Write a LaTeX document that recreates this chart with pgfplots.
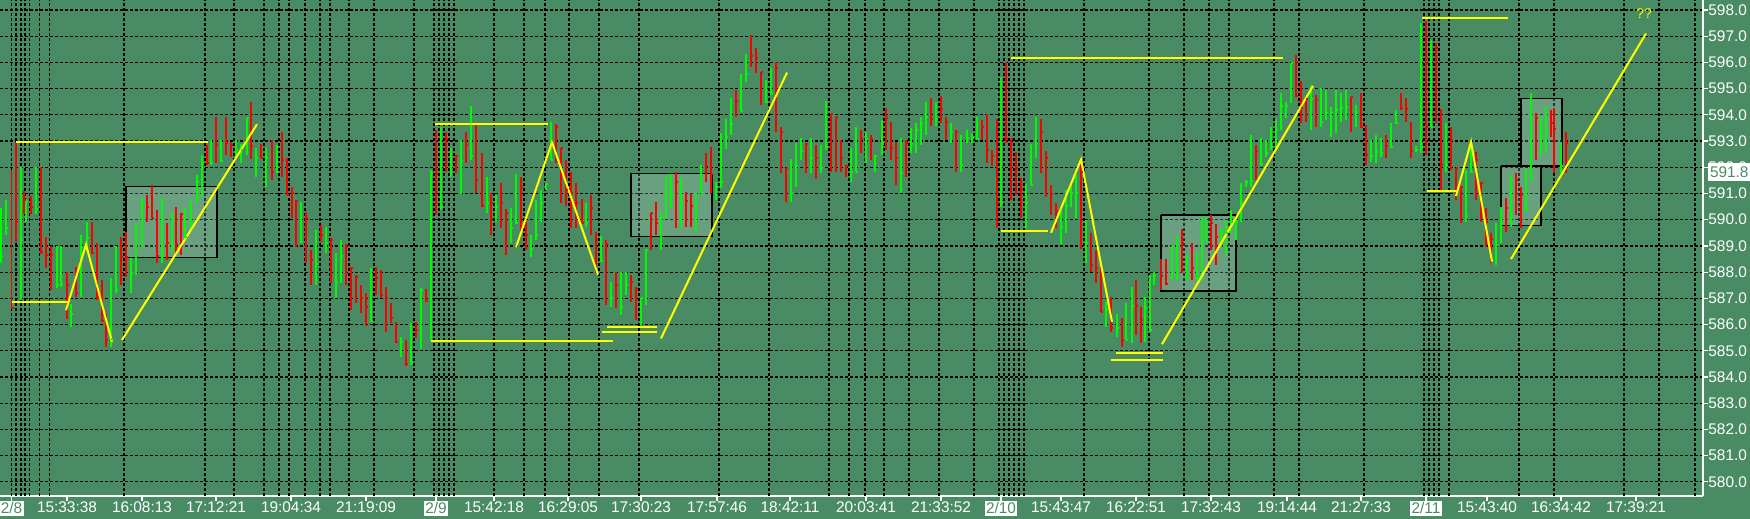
\documentclass[border=0pt]{standalone}
\usepackage{pgfplots}
\usepackage{pgfplotstable}
\pgfplotsset{compat=1.18}
\usepackage{fontspec}
\setmainfont{Liberation Sans}
\definecolor{bg}{RGB}{73,140,99}
\definecolor{bgreen}{RGB}{0,250,0}
\definecolor{bred}{RGB}{250,0,0}
\definecolor{yel}{RGB}{255,255,0}
\pgfdeclareplotmark{ctick}{\pgfpathmoveto{\pgfpointorigin}\pgfpathlineto{\pgfpoint{\pgfplotmarksize}{0pt}}\pgfusepathqstroke}
\newcommand\dbox[1]{{\setlength\fboxsep{0.7pt}\colorbox{white}{\textcolor{bg}{#1}}}}

\pgfplotstableread{
x h l c
1 590.43 588.33 588.63
6 590.75 589.42 589.67
21 592.02 586.94 589.23
26 590.75 589.9 590.7
36 592.0 590.2 590.4
57 589.0 587.4 587.5
61 589.0 587.45 587.55
71 586.8 585.9 586.4
81 589.4 587.06 588.97
87 589.9 588.8 589.3
111 587.76 585.13 585.43
116 589.0 587.19 587.32
131 588.53 587.19 587.95
136 589.86 587.89 589.4
142 590.88 588.97 590.5
162 590.81 588.34 588.63
172 590.3 588.78 589.03
185 590.43 589.29 589.35
191 590.75 589.67 589.89
197 591.7 590.62 591.45
202 592.47 590.88 592.15
211 593.04 592.09 592.15
221 593.04 592.21 592.25
236 593.04 592.4 592.66
241 592.9 592.15 592.66
247 593.87 592.47 593.87
256 592.72 591.64 592.34
266 592.72 591.26 592.34
277 592.85 591.77 591.83
301 590.69 589.1 589.16
316 589.6 587.5 588.3
326 589.73 588.72 589.12
336 588.72 587.0 587.64
341 589.22 587.57 588.63
371 588.14 586.11 586.15
401 585.51 584.77 585.35
411 586.04 584.45 584.54
421 587.38 585.05 587.3
431 591.9 585.4 591.75
441 593.55 590.37 590.5
451 592.72 591.64 592.06
461 593.04 590.98 592.25
471 594.34 592.28 592.43
487 591.62 590.24 590.65
496 590.94 589.92 590.47
511 590.43 589.12 589.67
516 591.74 589.84 589.86
531 589.42 588.56 588.87
536 590.75 589.22 589.42
541 591.13 589.92 590.65
546 591.39 591.13 591.35
551 593.74 592.28 592.28
586 590.65 589.73 589.86
601 589.38 588.4 588.44
611 587.63 586.68 587.0
621 588.0 586.36 586.66
626 588.0 587.13 587.51
641 587.0 586.0 587.0
646 588.9 586.74 588.84
661 590.27 588.84 590.05
666 591.62 590.05 591.0
671 591.74 590.43 590.98
681 591.58 589.73 590.65
696 591.03 589.54 590.34
701 592.08 591.03 591.03
716 591.45 590.75 591.26
721 593.32 591.2 591.45
726 593.83 592.68 593.14
731 594.63 593.23 593.65
741 595.56 594.16 594.16
746 596.32 595.27 595.56
766 595.33 594.44 594.47
771 595.77 594.76 594.85
791 592.3 590.69 591.03
796 592.91 591.26 592.05
801 593.1 592.28 592.63
811 593.1 591.77 592.34
821 592.85 591.77 591.96
826 594.54 592.66 592.76
851 592.72 591.45 591.83
856 593.52 591.83 591.83
866 593.36 592.15 593.07
875 592.47 591.83 592.43
882 593.8 592.47 592.89
901 593.1 591.03 591.77
911 593.48 592.53 592.89
916 593.67 592.55 593.42
921 593.93 592.85 593.67
926 594.5 593.23 593.9
936 594.5 593.57 593.83
951 593.67 592.94 593.36
961 593.23 591.83 592.06
967 593.42 592.91 593.1
972 593.3 592.91 593.1
977 593.93 593.04 593.07
1001 595.43 590.5 590.65
1026 591.36 589.67 590.65
1031 592.89 591.32 591.32
1036 593.9 592.34 592.89
1061 590.5 589.07 589.71
1066 591.13 589.48 590.52
1071 591.39 590.5 591.03
1076 591.7 590.05 591.03
1086 589.99 588.33 589.12
1106 586.87 585.9 586.55
1117 586.42 585.51 585.85
1126 586.81 585.41 585.41
1132 587.44 585.28 586.7
1145 587.06 585.35 586.62
1150 587.89 585.73 585.79
1154 588.0 587.5 587.85
1172 589.0 587.7 589.0
1177 589.38 587.7 588.1
1187 588.65 587.7 587.76
1197 588.72 587.7 587.76
1202 590.12 587.7 589.22
1206 590.12 589.16 589.22
1221 589.67 588.97 589.54
1226 589.99 588.65 589.48
1231 590.37 589.48 589.92
1236 590.12 589.22 589.92
1241 591.39 589.92 590.65
1246 591.51 591.26 591.45
1251 593.23 591.26 591.49
1261 593.1 592.03 592.13
1266 593.04 592.38 592.56
1271 593.52 592.66 592.76
1276 593.83 592.66 593.42
1281 594.82 593.42 594.34
1286 594.5 593.87 594.34
1291 595.97 594.44 595.97
1311 595.14 593.42 594.59
1321 595.01 593.55 593.74
1326 594.95 593.8 594.06
1331 594.31 593.17 594.06
1336 594.95 593.29 594.18
1341 594.82 593.74 594.25
1346 594.95 593.8 594.31
1356 594.38 593.55 594.12
1371 593.04 592.21 592.43
1376 593.23 592.15 592.6
1381 593.1 592.4 592.53
1391 593.67 592.72 592.76
1396 594.18 593.65 593.67
1416 592.8 592.6 592.65
1421 597.49 592.53 592.78
1431 596.85 593.55 593.55
1446 593.67 591.83 592.08
1466 591.89 589.92 590.14
1471 592.78 591.77 591.83
1496 589.86 588.27 589.03
1501 590.5 589.12 589.83
1511 591.7 589.73 590.14
1526 591.96 590.3 590.43
1531 594.82 591.51 591.51
1541 593.93 592.47 593.36
1546 594.31 592.59 593.36
1561 592.97 591.77 592.06
}\greenbars

\pgfplotstableread{
x h l c
11.5 591.9 586.6 586.64
16 592.98 589.16 589.92
24 591.1 590.2 590.75
31 590.9 590.2 590.5
41 592.0 588.7 588.75
46 589.35 588.14 588.65
51 589.0 587.3 588.65
67 588.0 586.2 587.5
76 588.2 587.06 587.2
92 589.92 588.72 588.74
97 589.1 586.94 587.0
102 587.7 586.1 586.15
106 586.4 585.13 585.4
121 589.35 587.5 588.56
126 589.54 587.83 588.56
147 590.94 589.92 590.47
152 591.32 590.05 590.05
157 590.37 588.34 588.63
167 589.86 588.46 589.1
176 590.5 588.65 589.07
181 590.24 588.65 590.22
207 592.85 592.09 592.15
216 593.93 592.15 592.85
226 593.93 592.47 592.94
231 592.98 592.4 592.85
251 594.5 592.3 592.8
261 592.9 592.34 592.34
272 593.04 591.5 591.83
282 593.36 591.64 592.28
287 592.34 590.94 590.94
292 591.26 590.05 591.0
296 590.75 588.97 590.7
306 590.3 588.33 590.05
311 588.84 587.5 588.46
321 589.8 589.16 589.42
331 589.29 587.57 589.22
346 589.07 587.5 589.03
351 588.21 586.55 588.14
356 587.89 586.81 587.83
361 587.51 586.43 587.03
366 587.19 585.94 586.66
376 588.2 587.13 587.76
381 588.08 587.0 587.13
386 587.44 585.73 587.03
391 586.81 586.05 586.24
396 586.1 585.3 585.35
406 585.41 584.42 584.49
416 586.1 585.5 585.8
426 587.34 586.87 586.9
436 593.42 590.18 591.74
446 593.36 591.83 593.07
456 592.47 591.77 592.43
466 593.36 592.15 592.85
476 593.61 591.0 591.51
482 592.53 590.47 590.52
491 591.0 589.42 590.65
501 591.41 589.67 590.65
506 590.4 588.65 590.24
521 591.62 589.48 591.26
526 589.92 588.84 589.42
556 593.65 592.15 593.55
561 592.72 590.62 592.72
566 592.28 590.53 591.13
571 591.8 589.67 591.03
576 591.39 589.67 590.65
582 590.8 589.86 589.86
591 590.94 589.42 590.46
596 589.54 587.95 589.22
606 589.22 586.74 589.06
616 588.0 586.62 587.51
631 587.89 586.87 587.63
636 587.44 586.17 587.34
651 590.27 588.84 590.24
656 590.69 589.42 589.86
676 591.8 589.67 591.45
686 591.07 589.73 590.73
691 590.98 589.73 590.52
706 592.53 591.45 592.06
711 592.76 591.0 591.74
736 594.95 593.93 594.54
751 597.05 595.84 596.24
756 596.54 595.58 596.16
761 595.65 594.37 595.65
776 596.03 593.36 595.77
781 593.52 591.77 593.36
786 591.96 590.69 591.96
806 592.91 591.77 592.87
816 592.85 591.54 592.34
831 594.03 591.83 594.03
836 593.93 591.83 593.93
841 593.04 591.83 592.34
846 592.08 591.64 592.05
861 593.42 592.53 593.07
871 593.23 592.28 593.07
886 594.25 592.66 593.87
891 593.74 592.28 592.75
896 592.97 591.32 592.34
906 593.04 591.64 592.94
931 594.63 593.57 593.83
941 594.72 593.67 594.21
946 593.9 593.04 593.74
956 593.42 591.83 593.36
982 593.8 593.04 593.55
987 594.03 592.15 592.66
992 592.66 592.05 592.43
997 593.83 589.67 590.65
1006 596.03 592.91 593.07
1011 593.07 590.75 593.07
1016 592.6 590.94 591.96
1021 591.58 590.05 591.16
1041 593.84 591.77 593.36
1046 592.63 590.88 592.34
1051 591.32 590.18 590.98
1056 590.65 589.67 590.34
1081 592.4 588.9 591.83
1091 589.48 588.02 588.27
1096 588.84 587.57 588.14
1101 588.14 586.49 586.49
1111 587.06 585.7 585.85
1122 586.24 585.13 585.41
1136 587.7 585.6 586.7
1141 586.68 585.28 586.17
1161 588.5 587.3 587.85
1166 588.5 587.5 587.53
1182 589.63 587.95 589.12
1192 589.1 587.7 588.14
1211 590.18 588.84 589.86
1216 589.84 588.27 589.35
1256 592.85 591.51 592.63
1296 596.28 594.67 594.72
1301 595.3 593.67 594.25
1306 594.67 593.74 594.59
1316 594.75 593.55 594.57
1351 594.69 593.36 594.67
1361 594.82 593.48 593.55
1366 593.61 592.08 592.47
1386 593.23 592.34 592.81
1401 594.82 594.18 594.25
1406 594.63 593.74 594.21
1411 593.74 592.34 592.63
1426 597.59 592.47 593.55
1436 596.73 593.67 596.54
1441 594.21 591.13 592.08
1451 593.55 591.89 593.04
1456 591.96 590.75 591.96
1461 591.28 589.86 591.26
1476 592.59 590.75 592.28
1481 591.45 589.92 591.39
1486 590.43 588.97 589.92
1491 589.48 588.33 589.25
1506 590.81 589.54 590.43
1516 591.77 590.18 591.51
1521 591.26 589.67 590.94
1536 594.06 592.28 593.87
1551 594.18 593.17 593.67
1554 594.25 591.77 593.45
1566 593.36 591.79 592.94
}\redbars

\begin{document}
\begin{tikzpicture}
\path[use as bounding box, fill=bg] (0,-11.5pt) rectangle (875pt,248pt);
\begin{axis}[
  at={(0,0)}, anchor=south west,
  scale only axis, width=851.5pt, height=248pt,
  xmin=0, xmax=1703, ymin=579.46, ymax=598.38,
  axis x line*=bottom, axis y line*=right,
  axis line style={white, line width=0.6pt},
  tick align=outside, major tick length=2.5pt,
  tick style={white, line width=0.6pt},
  ticklabel style={font=\fontsize{7.7}{9}\selectfont, text=white},
  xtick={11.5,67,142,216,291,366,436,494,568,641,717,790,866,941,1001,1061,1136,1211,1287,1361,1426,1487,1561,1636},
  xticklabels={\dbox{2/8},15:33:38,16:08:13,17:12:21,19:04:34,21:19:09,\dbox{2/9},15:42:18,16:29:05,17:30:23,17:57:46,18:42:11,20:03:41,21:33:52,\dbox{2/10},15:43:47,16:22:51,17:32:43,19:14:44,21:27:33,\dbox{2/11},15:43:40,16:34:42,17:39:21},
  xticklabel style={anchor=north, inner sep=0pt},
  extra x ticks={11.5,16,21,25,29.5,39.4,49.8,124,205,234,264,279,289,305,320,330,349,374,414,434,439,444,449,454,494,524,545,569,599,639,719,769,829,849,865,884,909,939,974,999,1004,1009,1014,1019,1024,1084,1149,1184,1209,1229,1274,1299,1364,1424,1429,1434,1439,1449,1519,1554,1624,1659,1695},
  extra x tick labels={},
  extra x tick style={xmajorgrids=true, major tick length=0pt},
  xmajorgrids=false, ymajorgrids=true,
  major grid style={black, line width=0.6pt, dash pattern=on 1.5pt off 1pt},
  ytick={580,581,...,598},
  yticklabel={\pgfmathprintnumber[fixed,fixed zerofill,precision=1,assume math mode=true]{\tick}},
  yticklabel style={anchor=west, inner sep=0pt},
]
% boxes
\addplot[draw=black, line width=0.6pt, fill=white, fill opacity=0.18] coordinates {(126,591.27) (217,591.27) (217,588.56) (126,588.56) (126,591.27)};
\addplot[draw=black, line width=0.6pt, fill=white, fill opacity=0.18] coordinates {(631,591.77) (712,591.77) (712,589.35) (631,589.35) (631,591.77)};
\addplot[draw=black, line width=0.6pt, fill=white, fill opacity=0.18] coordinates {(1161,590.18) (1236,590.18) (1236,587.28) (1161,587.28) (1161,590.18)};
\addplot[draw=black, line width=0.6pt, fill=white, fill opacity=0.18] coordinates {(1501,592.05) (1541,592.05) (1541,589.78) (1501,589.78) (1501,592.05)};
\addplot[draw=black, line width=0.6pt, fill=white, fill opacity=0.18] coordinates {(1521,594.63) (1562,594.63) (1562,592.05) (1521,592.05) (1521,594.63)};
% bars
\addplot[bgreen, only marks, mark=ctick, mark size=1.1pt, mark options={line width=1pt},
  error bars/.cd, y dir=both, y explicit, error mark=none, error bar style={line width=0.65pt}]
  table[x=x, y=c, y error plus expr=\thisrow{h}-\thisrow{c}, y error minus expr=\thisrow{c}-\thisrow{l}] {\greenbars};
\addplot[bred, only marks, mark=ctick, mark size=1.1pt, mark options={line width=1pt},
  error bars/.cd, y dir=both, y explicit, error mark=none, error bar style={line width=0.65pt}]
  table[x=x, y=c, y error plus expr=\thisrow{h}-\thisrow{c}, y error minus expr=\thisrow{c}-\thisrow{l}] {\redbars};
% yellow annotations
\addplot[yel, line width=1pt] coordinates {(16,592.98) (208,592.98)};
\addplot[yel, line width=1pt] coordinates {(11.5,586.87) (68,586.87)};
\addplot[yel, line width=1pt] coordinates {(66,586.55) (86,589.05) (112,585.34)};
\addplot[yel, line width=1pt] coordinates {(122,585.41) (257,593.64)};
\addplot[yel, line width=1pt] coordinates {(435,593.65) (548,593.65)};
\addplot[yel, line width=1pt] coordinates {(516,588.95) (552,592.95) (598,587.9)};
\addplot[yel, line width=1pt] coordinates {(431,585.38) (613,585.38)};
\addplot[yel, line width=1pt] coordinates {(607,585.92) (657,585.92)};
\addplot[yel, line width=1pt] coordinates {(602,585.70) (657,585.70)};
\addplot[yel, line width=1pt] coordinates {(661,585.47) (787,595.61)};
\addplot[yel, line width=1pt] coordinates {(1001,589.55) (1048,589.55)};
\addplot[yel, line width=1pt] coordinates {(1051,589.5) (1081,592.3) (1112,586.1)};
\addplot[yel, line width=1pt] coordinates {(1011,596.18) (1283,596.18)};
\addplot[yel, line width=1pt] coordinates {(1116,584.92) (1163,584.92)};
\addplot[yel, line width=1pt] coordinates {(1111,584.66) (1163,584.66)};
\addplot[yel, line width=1pt] coordinates {(1162,585.25) (1313,595.1)};
\addplot[yel, line width=1pt] coordinates {(1422,597.71) (1508,597.71)};
\addplot[yel, line width=1pt] coordinates {(1427,591.11) (1458,591.11)};
\addplot[yel, line width=1pt] coordinates {(1456,590.9) (1471,592.97) (1492,588.4)};
\addplot[yel, line width=1pt] coordinates {(1511,588.5) (1646,597.1)};
\node[text=yel, font=\fontsize{7}{8}\selectfont, inner sep=0pt] at (axis cs:1644,597.85) {??};
\coordinate (cur) at (axis cs:1703,591.82);
\end{axis}
\node[anchor=west, fill=white, text=bg, inner xsep=0.8pt, inner ysep=1.6pt, font=\fontsize{7.7}{9}\selectfont] at ([xshift=2.5pt]cur) {591.8};
\end{tikzpicture}
\end{document}
